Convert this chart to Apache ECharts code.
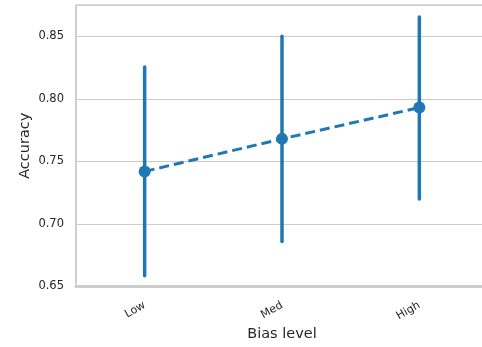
<!DOCTYPE html>
<html>
<head>
<meta charset="utf-8">
<script src="https://cdn.jsdelivr.net/npm/echarts@6/dist/echarts.min.js"></script>
<style>
  html, body { margin: 0; padding: 0; background: #fff; }
  #chart { width: 482px; height: 347px; }
</style>
</head>
<body>
<div id="chart"></div>
<script>
// Mean accuracy per bias level with its confidence interval
const categories = ['Low', 'Med', 'High'];
const meanAccuracy = [0.742, 0.768, 0.793];
const ciLow = [0.6586, 0.686, 0.720];
const ciHigh = [0.8255, 0.850, 0.8655];

const blue = '#1f77b4';
const font = 'DejaVu Sans';

const chart = echarts.init(document.getElementById('chart'));

chart.setOption({
  animation: false,
  grid: {
    left: 76, top: 5, width: 412, height: 281.5,
    outerBoundsMode: 'none',
    show: true, borderColor: '#cccccc', borderWidth: 1.5
  },
  xAxis: {
    type: 'category',
    data: categories,
    boundaryGap: true,
    name: 'Bias level',
    nameLocation: 'middle',
    nameMoveOverlap: false,
    nameGap: 40,
    nameTextStyle: { fontFamily: font, fontSize: 14.5, color: '#262626' },
    axisLine: { lineStyle: { color: '#cccccc', width: 3 } },
    axisTick: { show: false },
    axisLabel: { rotate: 30, fontFamily: font, fontSize: 11, color: '#262626', margin: 18 }
  },
  yAxis: {
    type: 'value',
    min: 0.65, max: 0.875, interval: 0.05,
    name: 'Accuracy',
    nameLocation: 'middle',
    nameMoveOverlap: false,
    nameGap: 43,
    nameTextStyle: { fontFamily: font, fontSize: 14.5, color: '#262626' },
    axisLine: { show: true, lineStyle: { color: '#cccccc', width: 1.5 } },
    axisTick: { show: false },
    splitLine: { lineStyle: { color: '#cccccc', width: 1 } },
    axisLabel: {
      showMaxLabel: false,
      fontFamily: font, fontSize: 11.5, color: '#262626', margin: 12,
      formatter: v => v.toFixed(2)
    }
  },
  series: [
    {
      type: 'custom',
      data: categories.map((c, i) => [i, ciLow[i], ciHigh[i]]),
      renderItem: (params, api) => {
        const lo = api.coord([api.value(0), api.value(1)]);
        const hi = api.coord([api.value(0), api.value(2)]);
        return {
          type: 'line',
          shape: { x1: lo[0], y1: lo[1], x2: hi[0], y2: hi[1] },
          style: { stroke: blue, lineWidth: 3.5, lineCap: 'round' }
        };
      },
      z: 2
    },
    {
      type: 'line',
      data: meanAccuracy,
      symbol: 'circle',
      symbolSize: 12,
      itemStyle: { color: blue },
      lineStyle: { color: blue, width: 3, type: [10, 5] },
      z: 3
    }
  ]
});
</script>
</body>
</html>
